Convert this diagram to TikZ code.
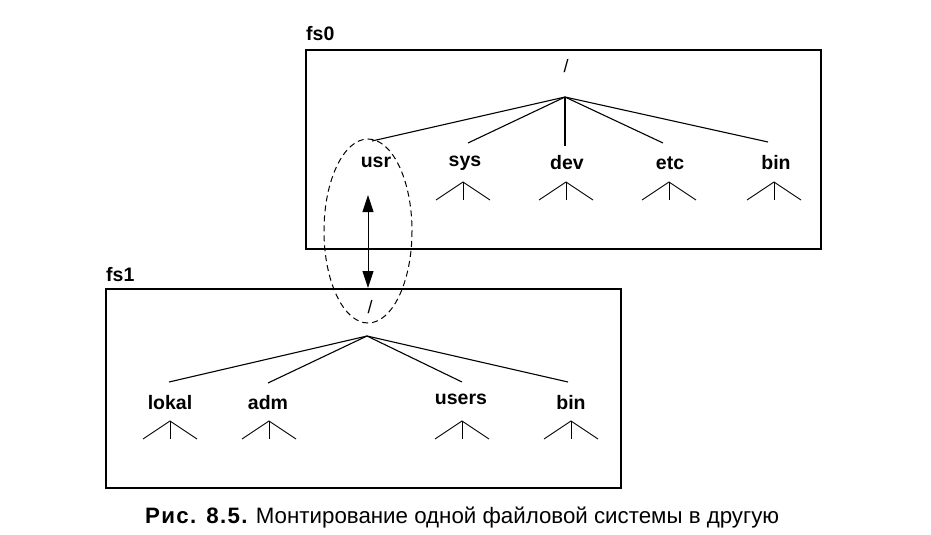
\documentclass[tikz,border=0pt]{standalone}
\usepackage{fontspec}
\setmainfont{Liberation Sans}
\usetikzlibrary{arrows.meta}
\tikzset{
  lbl/.style={font=\bfseries\fontsize{19.5}{21}\selectfont, inner sep=0pt, anchor=base},
  fslbl/.style={font=\bfseries\fontsize{19.5}{21}\selectfont, inner sep=0pt, anchor=base west},
  slash/.style={font=\fontsize{18}{20}\selectfont, inner sep=0pt, anchor=base},
  fsbox/.style={draw, line width=1.2pt},
  branch/.style={line width=1.1pt},
  mountarrow/.style={line width=0.9pt, {Triangle[length=17pt,width=11pt]}-{Triangle[length=17pt,width=11pt]}},
  mountring/.style={line width=1pt, dash pattern=on 6pt off 4pt},
  pics/tent/.style={code={
    \draw[line width=0.9pt] (-27,18) -- (0,0) -- (27,18);
    \draw[line width=0.9pt] (0,0) -- (0,18);
  }}
}
\begin{document}
\begin{tikzpicture}[x=1pt,y=-1pt]
\useasboundingbox (0,0) rectangle (931,535);

% ---------- fs0 ----------
\node[fslbl] (fs0lbl) at (306,41) {fs0};
\draw[fsbox] (306,50) rectangle (821,249);
\node[slash] (root0lbl) at (566,73) {/};
\coordinate (root0) at (565,97);

\node[lbl] (usr) at (376,167) {usr};
\node[lbl] (sys) at (465,166) {sys};
\node[lbl] (dev) at (567,169) {dev};
\node[lbl] (etc) at (670,169) {etc};
\node[lbl] (bin0) at (776,169) {bin};

\coordinate (usrT) at (372,141);
\coordinate (sysT) at (468,143);
\coordinate (devT) at (565,146);
\coordinate (etcT) at (663,143);
\coordinate (bin0T) at (768,142);
\foreach \e in {usrT,sysT,devT,etcT,bin0T}
  \draw[branch] (root0) -- (\e);

\pic at (463,182) {tent};
\pic at (566,182) {tent};
\pic at (669,182) {tent};
\pic at (774,182) {tent};

% ---------- fs1 ----------
\node[fslbl] (fs1lbl) at (106,281) {fs1};
\draw[fsbox] (106,289) rectangle (621,488);
\node[slash] (root1lbl) at (370,313) {/};
\coordinate (root1) at (367,336);

\node[lbl] (lokal) at (170,409) {lokal};
\node[lbl] (adm) at (268,409) {adm};
\node[lbl] (users) at (461,404) {users};
\node[lbl] (bin1) at (571,409) {bin};

\coordinate (lokalT) at (169,382);
\coordinate (admT) at (268,383);
\coordinate (usersT) at (462,382);
\coordinate (bin1T) at (568,382);
\foreach \e in {lokalT,admT,usersT,bin1T}
  \draw[branch] (root1) -- (\e);

\pic at (170,421) {tent};
\pic at (269,421) {tent};
\pic at (462,421) {tent};
\pic at (571,421) {tent};

% ---------- mount ----------
\draw[mountring] (368,231) ellipse [x radius=44, y radius=92];
\coordinate (atop) at (368,195);
\coordinate (abot) at (368,288);
\draw[mountarrow] (atop) -- (abot);

% ---------- caption ----------
\node[inner sep=0pt, anchor=base west, font=\fontsize{22.3}{25}\selectfont] (cap) at (145,523)
  {{\bfseries\addfontfeature{LetterSpace=6}Рис. 8.5.} Монтирование одной файловой системы в другую};
\end{tikzpicture}
\end{document}
